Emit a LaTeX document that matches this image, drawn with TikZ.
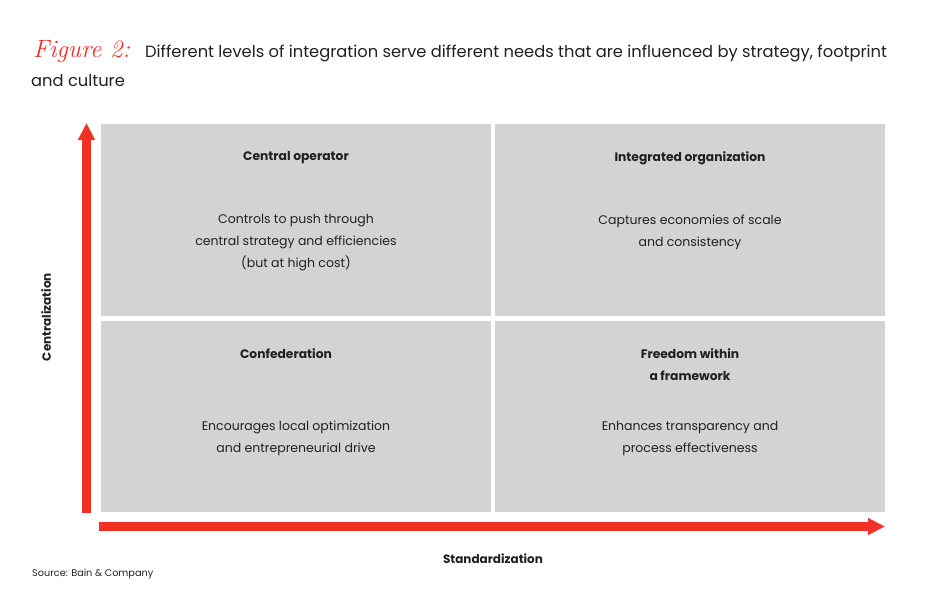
\documentclass[tikz,border=0pt]{standalone}
\usepackage{fontspec}
\setsansfont{Poppins}
\usetikzlibrary{arrows.meta}
\definecolor{bainred}{RGB}{238,50,36}
\definecolor{cellgray}{RGB}{210,211,213}
\definecolor{ink}{RGB}{35,31,32}
\tikzset{
	cell/.style={fill=cellgray},
	head/.style={font=\sffamily\bfseries\fontsize{12.3}{22}\selectfont, text=ink, align=center},
	body/.style={font=\sffamily\fontsize{12.5}{22}\selectfont, text=ink, align=center},
	axis/.style={draw=bainred, line width=9pt, -{Triangle[length=17pt,width=16pt]}},
	axislabel/.style={font=\sffamily\bfseries\fontsize{12}{14}\selectfont, text=ink},
}

\begin{document}
\begin{tikzpicture}[x=1pt,y=-1pt]
	\useasboundingbox (0,0) rectangle (950,610);
	\node[anchor=base west, inner sep=0, text=bainred, font=\rmfamily\itshape\fontsize{25}{28}\selectfont] (fig) at (33,58){Figure 2:};
	\node[anchor=base west, inner sep=0, text=ink, font=\sffamily\fontsize{16.3}{28}\selectfont] (title) at (145,58){Different levels of integration serve different needs that are influenced by strategy, footprint};
	\node[anchor=base west, inner sep=0, text=ink, font=\sffamily\fontsize{16.3}{28}\selectfont] (title2) at (31,86){and culture};
	\fill[cell] (101,124) rectangle (491,316);%top left
	\fill[cell] (495,124) rectangle (885,316);%top right
	\fill[cell] (101,321) rectangle (491,512);%bottom left
	\fill[cell] (495,321) rectangle (885,512);%bottom right
	\node[head] (central) at (296,158){Central operator};
	\node[body] (centraltxt) at (296,243){Controls to push through\\central strategy and efficiencies\\(but at high cost)};
	\node[head] (integrated) at (690,158){Integrated organization};
	\node[body] (integratedtxt) at (690,232){Captures economies of scale\\and consistency};
	\node[head] (confed) at (286,354){Confederation};
	\node[body] (confedtxt) at (296,438){Encourages local optimization\\and entrepreneurial drive};
	\node[head] (freedom) at (690,365){Freedom within\\a framework};
	\node[body] (freedomtxt) at (690,438){Enhances transparency and\\process effectiveness};
	\coordinate (ybot) at (86.5,513);
	\coordinate (ytop) at (86.5,123);
	\coordinate (xleft) at (99,526.5);
	\coordinate (xright) at (885,526.5);
	\draw[axis] (ybot) -- (ytop);
	\draw[axis] (xleft) -- (xright);
	\node[axislabel, rotate=90] (cent) at (46,317){Centralization};
	\node[axislabel] (stand) at (493,559){Standardization};
	\node[anchor=west, inner sep=0, text=ink, font=\sffamily\fontsize{9.7}{11}\selectfont] (source) at (32,574){Source: Bain \& Company};
\end{tikzpicture}
\end{document}
